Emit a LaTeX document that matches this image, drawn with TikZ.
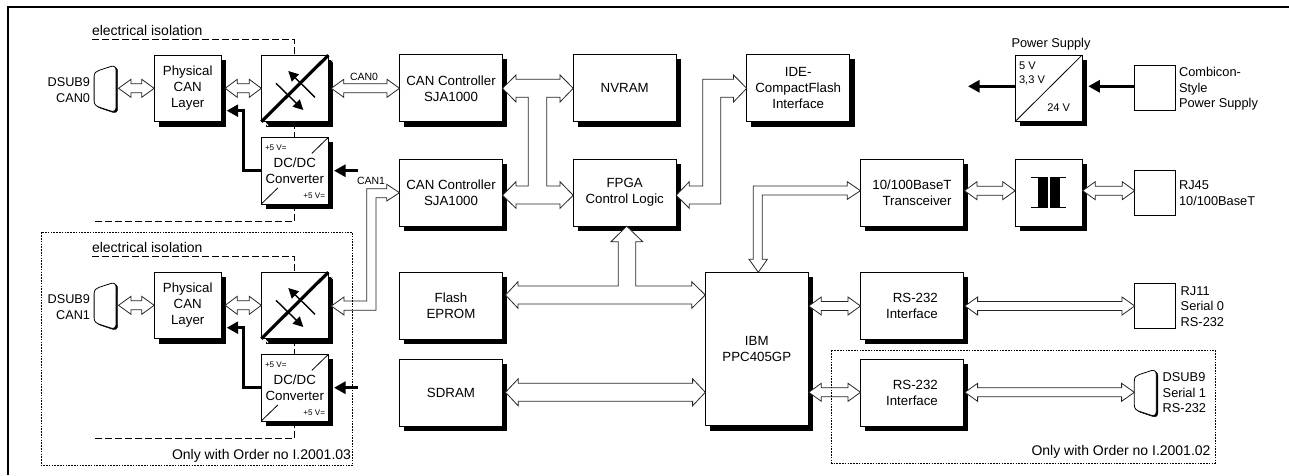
\documentclass[tikz,border=0pt]{standalone}
\usepackage{fontspec}
\setmainfont{Liberation Sans}
\usetikzlibrary{calc,arrows.meta}
\definecolor{shadowcol}{RGB}{0,0,0}
\newcommand\txt[2]{\fontsize{#1}{#2}\selectfont}
\tikzset{
  blk/.style={draw=black,fill=white,line width=0.9pt,inner sep=0pt,outer sep=0pt,align=center,
     font=\txt{13.3}{16}},
  wide/.style={blk,minimum width=103pt,minimum height=67pt},
  sq/.style={blk,minimum width=67pt,minimum height=66.5pt},
  term/.style={draw=black,fill=white,line width=0.9pt,inner sep=0pt,outer sep=0pt,minimum width=40.6pt,minimum height=45pt},
  conn/.style={inner sep=0pt,outer sep=0pt,minimum width=23.4pt,minimum height=47pt},
  lab/.style={inner sep=0pt,outer sep=0pt,font=\txt{12.7}{15.5}},
  lableft/.style={lab,anchor=west,align=left},
  labright/.style={lab,anchor=east,align=right},
  bus/.style={draw=black!85,fill=white,line width=0.8pt,line join=miter},
  power/.style={line width=2.8pt,-{Triangle[length=11.5pt,width=12pt]}},
  isol/.style={line width=0.9pt,dash pattern=on 7pt off 3pt},
  option/.style={line width=0.9pt,dash pattern=on 1.6pt off 1.2pt},
  thin diag/.style={line width=0.8pt},
  flow/.style={line width=1.4pt,-{Triangle[length=10pt,width=10pt]}},
  shadowbar/.style={draw=shadowcol,line width=4.9pt,line cap=butt,line join=miter},
}
% L-shaped black shadow of a box, stroked just outside its south and east sides
\newcommand\castshadow[1]{%
  \draw[shadowbar] ($(#1.south west)+(4.6,2.45)$) -- ($(#1.south east)+(2.45,2.45)$) -- ($(#1.north east)+(2.45,4.6)$);}
% straight double arrow: [offset of left tip]{left node}{right node}{y}{shaft half}{head half}{head length}
\newcommand\hbus[7][0]{%
  \draw[bus] ($(#2.east |- 0,#4)+(#1,0)$) coordinate (tl) -- ++(#7,-#6) -- ++(0,{#6-#5})
    -- ($(#3.west |- 0,#4)+(-#7,-#5)$) -- ++(0,{-(#6-#5)}) -- (#3.west |- 0,#4)
    -- ++(-#7,#6) -- ++(0,{-(#6-#5)}) -- ($(tl)+(#7,#5)$) -- ++(0,{#6-#5}) -- cycle;}
% D-sub connector outline drawn inside its node
\newcommand\dsubpath{(0,11) .. controls (0,7) and (2,5.5) .. (5,4.5) -- (17,0.6)
    .. controls (20,-0.2) and (22,1) .. (22,5) -- (22,41) .. controls (22,45) and (20,46) .. (17,45.3)
    -- (7,42) .. controls (2,40.5) and (0,39) .. (0,35) -- cycle}
\newcommand\dsubshape[1]{%
  \begin{scope}[shift={(#1.north west)}]
    \begin{scope}[shift={(1.6,1.2)}]
      \filldraw[draw=shadowcol,fill=shadowcol] \dsubpath;
    \end{scope}
    \draw[fill=white,line width=0.8pt,line join=round] \dsubpath;
  \end{scope}}
% one isolated CAN channel
\newcommand\canchannel[3]{%
  \begin{scope}[yshift=#2]
    \draw[isol] (92,39.5) -- (294.7,39.5) -- (294.7,55);
    \draw[isol] (294.7,122) -- (294.7,137);
    \draw[isol] (294.7,204) -- (294.7,221.5) -- (94,221.5);
    \node[lab,anchor=west,font=\txt{14}{16}] (iso#1) at (92,30) {electrical isolation};
    \node[labright] (dl#1) at (90,90) {DSUB9\\#3};
    \node[conn] (ds#1) at (105.8,89.3) {};
    \dsubshape{ds#1}
    \node[sq] (ph#1) at (187.7,88.5) {Physical\\CAN\\Layer};
    \castshadow{ph#1}
    \node[sq] (sw#1) at (294.8,88.5) {};
    \castshadow{sw#1}
    \node[sq] (dc#1) at (294.8,170.7) {DC/DC\\Converter};
    \castshadow{dc#1}
    \draw[white,line width=1pt] ($(sw#1.north east)+(1.5,2.5)$) -- ++(4,5);
    \draw[white,line width=1pt] ($(sw#1.south west)+(3.6,0.8)$) -- ++(3.2,3.2);
    \draw[line width=3.2pt] (sw#1.south west) -- (sw#1.north east);
    \draw[flow] (315,97.3) -- (288.3,71);
    \draw[flow] (276,83.3) -- (303.3,110);
    \draw[thin diag] (dc#1.north east) -- ++(-16.5,16);
    \draw[thin diag] (dc#1.south west) -- ++(16.5,-16);
    \node[lab,anchor=west,font=\txt{8.1}{10}] (pa#1) at (265,147.3) {+5 V=};
    \node[lab,anchor=east,font=\txt{8.1}{10}] (pb#1) at (325,196) {+5 V=};
    \hbus[1]{ds#1}{ph#1}{88.3}{4.5}{9}{12.5}
    \hbus[4]{ph#1}{sw#1}{88.3}{4.5}{9}{12}
    \coordinate (pw#1) at (357.7,170.7);
    \draw[power] (pw#1) -- (334,170.7);
    \draw[power] (dc#1.west |- 0,170.7) -- (243.3,170.7) -- (243.3,110.7) -- (226.7,110.7);
  \end{scope}}
\begin{document}
\begin{tikzpicture}[x=1pt,y=-1pt]
\useasboundingbox (0,0) rectangle (1289,475);
\draw[line width=2pt] (7.5,475) -- (7.5,6.7) -- (1289,6.7);

\node[wide] (ctlA) at (451,88.3) {CAN Controller\\SJA1000};
\node[wide] (ctlB) at (451,192.7) {CAN Controller\\SJA1000};
\node[wide] (nvram) at (624.7,88.3) {NVRAM};
\node[wide] (fpga) at (624.7,192.7) {FPGA\\Control Logic};
\node[wide] (ide) at (798.2,88.3) {IDE-\\CompactFlash\\Interface};
\node[wide] (flash) at (451,305.8) {Flash\\EPROM};
\node[wide] (sdram) at (451,392.5) {SDRAM};
\node[blk,minimum width=103pt,minimum height=153.4pt] (ibm) at (756.8,349) {IBM\\PPC405GP};
\node[wide,align=right] (rsA) at (912,305.8) {RS-232\\Interface};
\node[wide,align=right] (rsB) at (912,392.5) {RS-232\\Interface};
\node[wide,align=right] (trc) at (912,192.5) {10/100BaseT\\Transceiver};
\node[sq] (xfm) at (1048.7,192.7) {};
\node[sq] (psu) at (1048.7,88.2) {};
\foreach \n in {ctlA,ctlB,nvram,fpga,ide,flash,sdram,ibm,rsA,rsB,trc,xfm,psu}{\castshadow{\n}}
\node[term] (rjf) at (1155,192.7) {};
\node[term] (comb) at (1155,88) {};
\node[term] (rje) at (1155,305.8) {};
\node[conn] (dsR) at (1146,393.5) {};
\dsubshape{dsR}

% transformer symbol
\fill (1037.7,177) rectangle (1047.7,207.7);
\fill (1050,177) rectangle (1060,207.7);
\draw[line width=1pt] (1031,177) -- (1047.7,177) (1031,207.7) -- (1047.7,207.7)
  (1050,177) -- (1065.7,177) (1050,207.7) -- (1065.7,207.7);
% power supply
\draw[thin diag] (psu.south west) -- (psu.north east);
\node[lab,font=\txt{12.8}{16}] (pst) at (1051,43.7) {Power Supply};
\node[lableft,font=\txt{11.1}{13.4}] (psv) at (1019,73.3) {5 V\\3,3 V};
\node[lableft,font=\txt{11.1}{13.4}] (psi) at (1047.3,107.3) {24 V};
\coordinate (psout) at (968,86.3);
\draw[power] (psu.west |- 0,86.3) -- (psout);
\draw[power] (comb.west |- 0,86.3) -- (1088.3,86.3);

\node[lableft,font=\txt{12.8}{15.5}] (cl) at (1179,89) {Combicon-\\Style\\Power Supply};
\node[lableft,font=\txt{12.8}{15.5}] (rl) at (1179,193.3) {RJ45\\10/100BaseT};
\node[lableft,font=\txt{12.8}{15.5}] (jl) at (1180.7,306.3) {RJ11\\Serial 0\\RS-232};
\node[lableft,font=\txt{12.8}{15.5}] (dl) at (1162.7,393) {DSUB9\\Serial 1\\RS-232};

\canchannel{A}{0pt}{CAN0}
\canchannel{B}{-217pt}{CAN1}

\node[lab,font=\txt{10.5}{12}] (cz) at (364,77) {CAN0};
\node[lab,font=\txt{10.5}{12}] (co) at (371,180.5) {CAN1};
\hbus[3]{swA}{ctlA}{88.3}{4.5}{9}{12.5}

% CAN1 bus
\draw[bus] (ctlB.west |- 0,192.7) -- (386.7,184.3) -- (386.7,188.7) -- (366.7,188.7) -- (366.7,301)
  -- (344,301) -- (344,297) -- ($(swB.east |- 0,306)+(3,0)$) -- (344,315) -- (344,310.3) -- (376,310.3)
  -- (376,197.7) -- (386.7,197.7) -- (386.7,201) -- cycle;
% controllers / NVRAM / FPGA bus
\draw[bus] (ctlA.east |- 0,88.3) -- (516,75) -- (516,79.3) -- (560,79.3) -- (560,75) -- (nvram.west |- 0,88.3)
  -- (560,102) -- (560,97.3) -- (546.7,97.3) -- (546.7,186) -- (560,186) -- (560,181.7)
  -- (fpga.west |- 0,195.3) -- (560,208.3) -- (560,204) -- (516,204) -- (516,208.3)
  -- (ctlB.east |- 0,195.3) -- (516,181.7) -- (516,186) -- (528.3,186) -- (528.3,97.3)
  -- (516,97.3) -- (516,102) -- cycle;
% FPGA / IDE bus
\draw[bus] (ide.west |- 0,88.3) -- (733.5,75) -- (733.5,79.3) -- (702.7,79.3) -- (702.7,186) -- (689.3,186)
  -- (689.3,181.7) -- (fpga.east |- 0,195.3) -- (689.3,208.3) -- (689.3,204) -- (720.7,204)
  -- (720.7,97.3) -- (733.5,97.3) -- (733.5,102) -- cycle;
% Flash / FPGA / IBM bus
\draw[bus] ($(flash.east |- 0,295)+(3,0)$) -- (518,281.7) -- (518,286) -- (618.3,286) -- (618.3,241.7)
  -- (611,241.7) -- (fpga.south -| 626.7,0) -- (642.7,241.7) -- (635.7,241.7) -- (635.7,286)
  -- (691.7,286) -- (691.7,281.7) -- (ibm.west |- 0,295) -- (691.7,308.3) -- (691.7,304)
  -- (518,304) -- (518,308.3) -- cycle;
\hbus[3]{sdram}{ibm}{392.3}{9}{13.5}{12.7}
% Transceiver / IBM bus
\draw[bus] (trc.west |- 0,190.7) -- (847.3,181.7) -- (847.3,186) -- (753.3,186) -- (753.3,259.3) -- (749,259.3)
  -- (ibm.north -| 758.3,0) -- (767.3,259.3) -- (762.3,259.3) -- (762.3,195) -- (847.3,195) -- (847.3,199.3) -- cycle;

\hbus[1]{trc}{xfm}{190.7}{4.5}{9}{12.5}
\hbus[0.5]{xfm}{rjf}{190.7}{4.5}{9}{12.5}
\hbus[0.5]{ibm}{rsA}{306}{4.5}{9}{12.5}
\hbus[1.4]{rsA}{rje}{306}{4.5}{9}{12.7}
\hbus[0.5]{ibm}{rsB}{392.3}{4.5}{9}{12.5}
\hbus[1.4]{rsB}{dsR}{392.3}{4.5}{9}{12.7}

% optional regions
\draw[option] (41.3,232.3) rectangle (352.3,465.7);
\draw[option] (831.7,350.3) rectangle (1215,463.3);
\node[lab,anchor=east,font=\txt{14}{16}] (oa) at (351,456) {Only with Order no I.2001.03};
\node[lab,anchor=east,font=\txt{14}{16}] (ob) at (1210.5,451.5) {Only with Order no I.2001.02};
\end{tikzpicture}
\end{document}
